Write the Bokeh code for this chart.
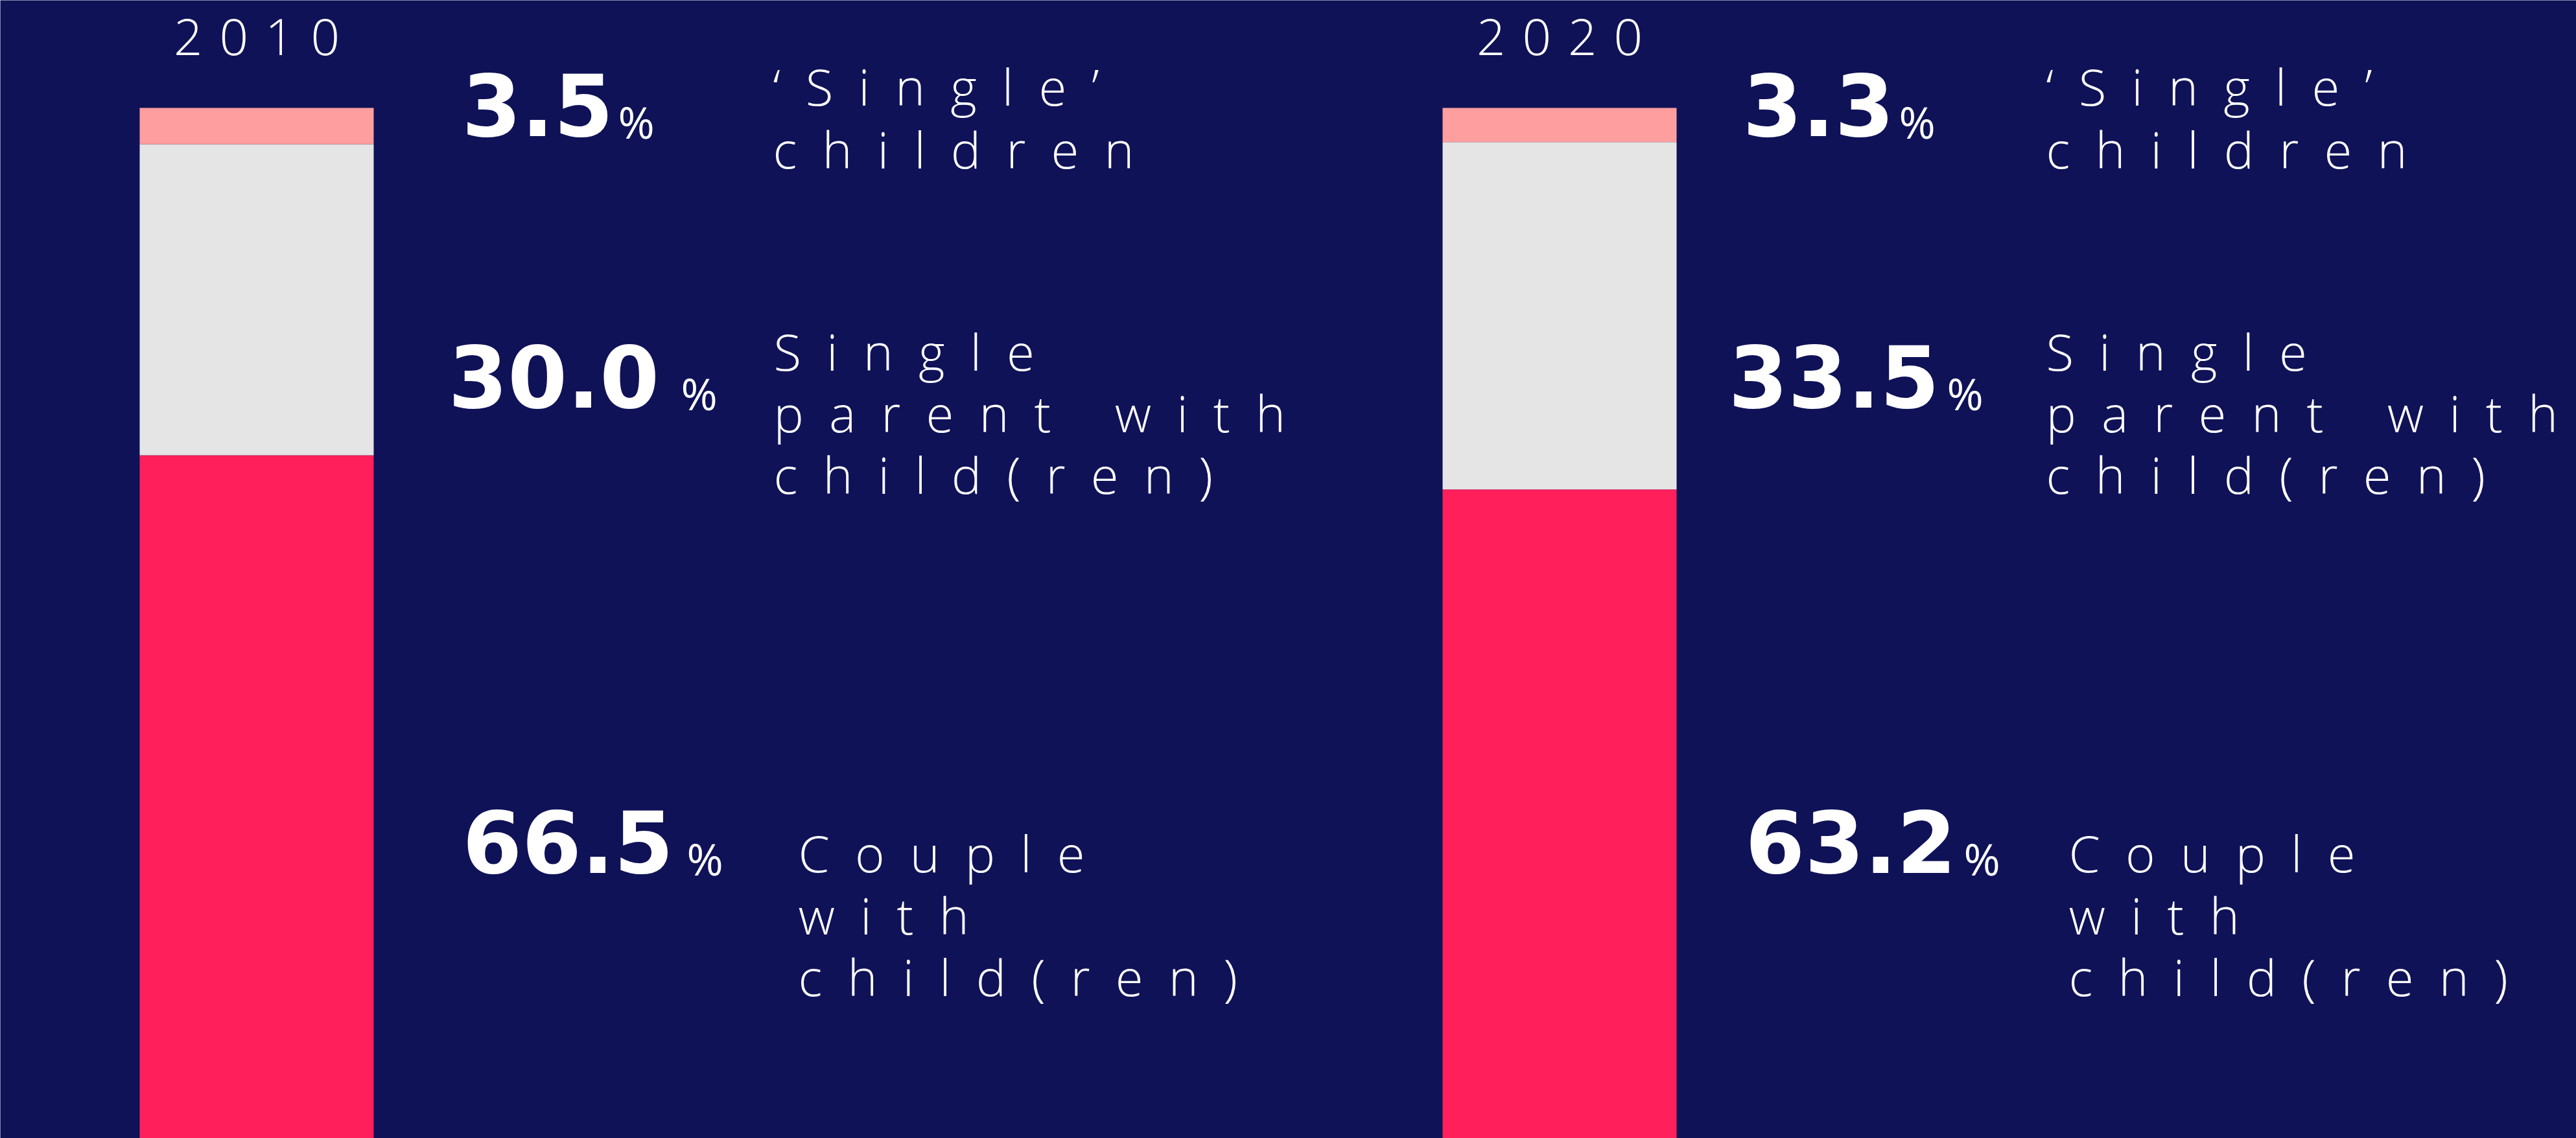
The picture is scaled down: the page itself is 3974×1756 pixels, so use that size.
from bokeh.plotting import figure
from bokeh.models import Range1d, ColumnDataSource
from bokeh.embed import file_html
from bokeh.resources import INLINE
from bokeh.core.properties import value

# ---------------- data ----------------
years = ["2010", "2020"]
categories = ["Couple with child(ren)", "Single parent with child(ren)", "‘Single’ children"]
couple = [66.5, 63.2]
single_parent = [30.0, 33.5]
single_children = [3.5, 3.3]
# label lines per category
label_lines_single_children = ["‘Single’", "children"]
label_lines_single_parent = ["Single", "parent with", "child(ren)"]
label_lines_couple = ["Couple", "with", "child(ren)"]

# ---------------- styles ----------------
BG = "#0F1257"
C_COUPLE = "#FF1F5B"
C_PARENT = "#E5E5E5"
C_SINGLE = "#FF9E9E"
LIGHT_FONT = "Open Sans Light"
BOLD_FONT = "DejaVu Sans"
PCT_FONT = "Open Sans"

W, H = 3974, 1756
SEP = "\u2002"       # letter spacing of labels
YEAR_SEP = "\u2004"  # letter spacing of years
SHIFT = 0.41         # baseline correction (em)

SZ_YEAR, SZ_VAL, SZ_PCT, SZ_LAB = 78, 132, 68, 78


def spaced(s, sep=SEP):
    return sep.join("\u00a0" if ch == " " else ch for ch in s)


p = figure(width=W, height=H, output_backend="svg", toolbar_location=None,
           x_range=Range1d(-395.5 / 2010, (W - 395.5) / 2010),
           y_range=Range1d(0.625, 110.375),
           min_border=0, background_fill_color=BG, border_fill_color=BG,
           outline_line_color=None)
p.extra_x_ranges = {"px": Range1d(0, W)}
p.extra_y_ranges = {"px": Range1d(H, 0)}
p.xaxis.visible = False
p.yaxis.visible = False
p.xgrid.visible = False
p.ygrid.visible = False

src = ColumnDataSource(dict(x=list(range(len(years))), years=years,
                            couple=couple, single_parent=single_parent,
                            single_children=single_children))
p.vbar_stack(["couple", "single_parent", "single_children"], x="x", width=361 / 2010,
             color=[C_COUPLE, C_PARENT, C_SINGLE], line_color=None, source=src)

# ---------------- layout of texts (pixel coordinates, baselines) ----------------
bar_cx = [395.5, 2405.5]
val_x = [[712, 691, 713], [2688, 2666, 2692]]        # single children, single parent, couple
pct_x = [[953, 1050, 1059], [2929, 3003, 3029]]
val_base = [215, 634, 1352]
lab_x = [[1192, 1193, 1231], [3156, 3156, 3191]]
lab_base = [[164, 261], [573, 668, 763], [1347, 1443, 1538]]
year_base = 86

series_top_down = [single_children, single_parent, couple]
lines_top_down = [label_lines_single_children, label_lines_single_parent, label_lines_couple]

yx, yy, yt = [], [], []
vx, vy, vt = [], [], []
px_, py_, pt = [], [], []
lx, ly, lt = [], [], []
for i, yr in enumerate(years):
    yx.append(bar_cx[i]); yy.append(year_base - SHIFT * SZ_YEAR); yt.append(spaced(yr, YEAR_SEP))
    for k, ser in enumerate(series_top_down):
        vx.append(val_x[i][k]); vy.append(val_base[k] - SHIFT * SZ_VAL); vt.append(f"{ser[i]:.1f}")
        px_.append(pct_x[i][k]); py_.append(val_base[k] - SHIFT * SZ_PCT); pt.append("%")
        for j, line in enumerate(lines_top_down[k]):
            lx.append(lab_x[i][k]); ly.append(lab_base[k][j] - SHIFT * SZ_LAB); lt.append(spaced(line))

p.text(x=yx, y=yy, text=yt, x_range_name="px", y_range_name="px",
       text_font=value(LIGHT_FONT), text_font_size=f"{SZ_YEAR}px", text_color="white",
       text_align="center", text_baseline="alphabetic")
p.text(x=vx, y=vy, text=vt, x_range_name="px", y_range_name="px",
       text_font=value(BOLD_FONT), text_font_style="bold", text_font_size=f"{SZ_VAL}px",
       text_color="white", text_align="left", text_baseline="alphabetic")
p.text(x=px_, y=py_, text=pt, x_range_name="px", y_range_name="px",
       text_font=value(PCT_FONT), text_font_size=f"{SZ_PCT}px", text_color="white",
       text_align="left", text_baseline="alphabetic")
p.text(x=lx, y=ly, text=lt, x_range_name="px", y_range_name="px",
       text_font=value(LIGHT_FONT), text_font_size=f"{SZ_LAB}px", text_color="white",
       text_align="left", text_baseline="alphabetic")

open("out.html", "w").write(file_html(p, INLINE))
